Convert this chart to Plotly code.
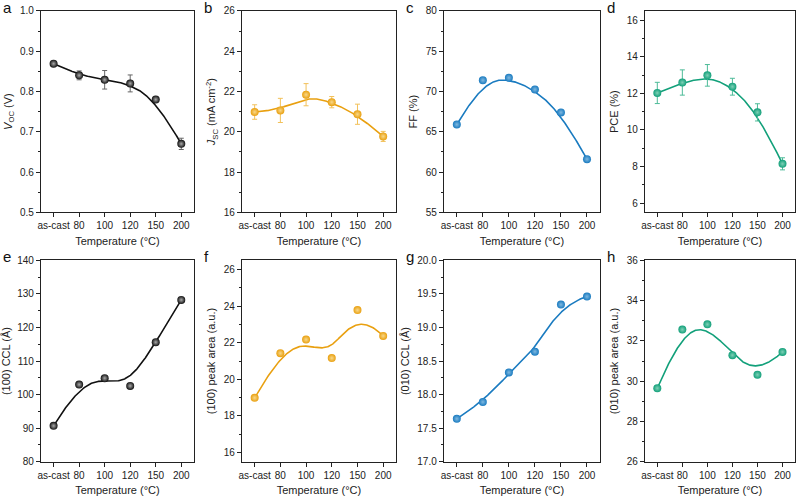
import numpy as np
import plotly.graph_objects as go

# ── Data ─────────────────────────────────────────────────────────────────────
x_labels = ["as-cast", "80", "100", "120", "150", "200"]

voc = [0.869, 0.840, 0.829, 0.820, 0.780, 0.670]
voc_err = [0.004, 0.011, 0.023, 0.021, 0.004, 0.014]

jsc = [20.98, 21.06, 21.84, 21.47, 20.87, 19.77]
jsc_err = [0.36, 0.60, 0.55, 0.28, 0.50, 0.25]

ff = [65.9, 71.4, 71.7, 70.25, 67.4, 61.6]

pce = [12.02, 12.59, 12.98, 12.36, 10.96, 8.15]
pce_err = [0.58, 0.69, 0.59, 0.46, 0.47, 0.33]

ccl_100 = [90.7, 103.0, 104.9, 102.6, 115.6, 128.2]
area_100 = [18.99, 21.43, 22.17, 21.16, 23.78, 22.37]
ccl_010 = [17.64, 17.89, 18.33, 18.64, 19.34, 19.46]
area_010 = [29.65, 32.56, 32.82, 31.29, 30.32, 31.45]

# ── Style ────────────────────────────────────────────────────────────────────
BLACK = "#111111"
ORANGE = "#E9A010"
BLUE = "#1A7BC0"
GREEN = "#12A07A"

FONT = "Liberation Sans, Arial, sans-serif"
W, H = 800, 501

# panel boxes in pixels: (left, right, top, bottom)
COLS = [(37, 191), (239, 394), (442, 599), (644, 795)]
ROWS = [(5, 211), (260, 466)]


def bspline(py, n=300):
    """Clamped cubic B-spline using the data points as control points (Origin style)."""
    px = np.arange(len(py), dtype=float)
    py = np.asarray(py, dtype=float)
    k = 3
    m = len(py)
    knots = np.concatenate([[0.0] * k, np.arange(m - k + 1, dtype=float), [float(m - k)] * k])
    t = np.linspace(0, m - k, n)
    t[-1] -= 1e-9

    def basis(i, d):
        if d == 0:
            return ((knots[i] <= t) & (t < knots[i + 1])).astype(float)
        out = np.zeros_like(t)
        den1 = knots[i + d] - knots[i]
        den2 = knots[i + d + 1] - knots[i + 1]
        if den1 > 0:
            out += (t - knots[i]) / den1 * basis(i, d - 1)
        if den2 > 0:
            out += (knots[i + d + 1] - t) / den2 * basis(i + 1, d - 1)
        return out

    B = np.array([basis(i, k) for i in range(m)])
    return B.T @ px, B.T @ py


panels = [
    # letter, values, errors, color, err color, y title, range, dtick, minor, highlight
    ("a", voc, voc_err, BLACK, "#666666", "<i>V</i><sub>OC</sub> (V)", [0.5, 1.0], 0.1, 0.05, "#aaaaaa"),
    ("b", jsc, jsc_err, ORANGE, "#F2C15A", "<i>J</i><sub>SC</sub> (mA cm<sup>-2</sup>)", [16, 26], 2, 1, "#F8D88A"),
    ("c", ff, None, BLUE, BLUE, "FF (%)", [55, 80], 5, 2.5, "#7FB8E0"),
    ("d", pce, pce_err, GREEN, "#4DBB98", "PCE (%)", [5.5, 16.5], 2, 1, "#7FD0B6"),
    ("e", ccl_100, None, BLACK, BLACK, "(100) CCL (Å)", [80, 140], 10, 5, "#aaaaaa"),
    ("f", area_100, None, ORANGE, ORANGE, "(100) peak area (a.u.)", [15.5, 26.5], 2, 1, "#F8D88A"),
    ("g", ccl_010, None, BLUE, BLUE, "(010) CCL (Å)", [17.0, 20.0], 0.5, 0.25, "#7FB8E0"),
    ("h", area_010, None, GREEN, GREEN, "(010) peak area (a.u.)", [26, 36], 2, 1, "#7FD0B6"),
]

fig = go.Figure()
layout = dict(
    width=W, height=H,
    paper_bgcolor="white", plot_bgcolor="white",
    margin=dict(l=0, r=0, t=0, b=0),
    font=dict(family=FONT, size=10, color="#222222"),
    showlegend=False,
    annotations=[],
)

for idx, (letter, vals, errs, color, ecolor, ytitle, yrange, dtick, minor, hl) in enumerate(panels):
    r, c = divmod(idx, 4)
    n = idx + 1
    xa = "x" if n == 1 else f"x{n}"
    ya = "y" if n == 1 else f"y{n}"
    left, right = COLS[c]
    top, bottom = ROWS[r]

    cx, cy = bspline(vals)
    fig.add_trace(go.Scatter(
        x=cx, y=cy, mode="lines", xaxis=xa, yaxis=ya,
        line=dict(color=color, width=1.6), hoverinfo="skip",
    ))
    fig.add_trace(go.Scatter(
        x=list(range(len(vals))), y=vals, mode="markers", xaxis=xa, yaxis=ya,
        marker=dict(size=8, color=color, line=dict(width=0),
                    gradient=dict(type="radial", color=hl)),
        error_y=None if errs is None else dict(
            type="data", array=errs, visible=True, color=ecolor, thickness=1, width=2.5),
    ))

    axis_common = dict(
        showline=True, linecolor="#222222", linewidth=1, mirror=True,
        ticks="outside", ticklen=4, tickcolor="#222222", tickwidth=1,
        showgrid=False, zeroline=False,
        tickfont=dict(family=FONT, size=10, color="#222222"),
    )
    t0 = 6 if letter in ("d", "f") else yrange[0]
    layout["xaxis" if n == 1 else f"xaxis{n}"] = dict(
        axis_common,
        domain=[left / W, right / W],
        anchor=ya,
        range=[-0.5, 5.5],
        tickmode="array", tickvals=list(range(len(x_labels))), ticktext=x_labels,
        tickangle=0,
        title=dict(text="Temperature (°C)", font=dict(family=FONT, size=11, color="#222222"),
                   standoff=6),
    )
    layout["yaxis" if n == 1 else f"yaxis{n}"] = dict(
        axis_common,
        domain=[1 - bottom / H, 1 - top / H],
        anchor=xa,
        range=yrange,
        tick0=t0,
        dtick=dtick,
        tickformat=".1f" if letter in ("a", "g") else None,
        minor=dict(ticks="outside", ticklen=2, tickcolor="#222222", dtick=minor,
                   tick0=t0, showgrid=False),
        title=dict(text=ytitle, font=dict(family=FONT, size=11, color="#222222"),
                   standoff=5),
    )
    layout["annotations"].append(dict(
        text=letter, xref="paper", yref="paper",
        x=(left - 40) / W, y=1 - (top + 7) / H,
        xanchor="left", yanchor="bottom", showarrow=False,
        font=dict(family=FONT, size=15, color="#111111"),
    ))

fig.update_layout(**layout)
fig.write_html(
    "out.html",
    config={"displayModeBar": False},
    post_script="document.body.style.margin='0';document.body.style.overflow='hidden';",
)
